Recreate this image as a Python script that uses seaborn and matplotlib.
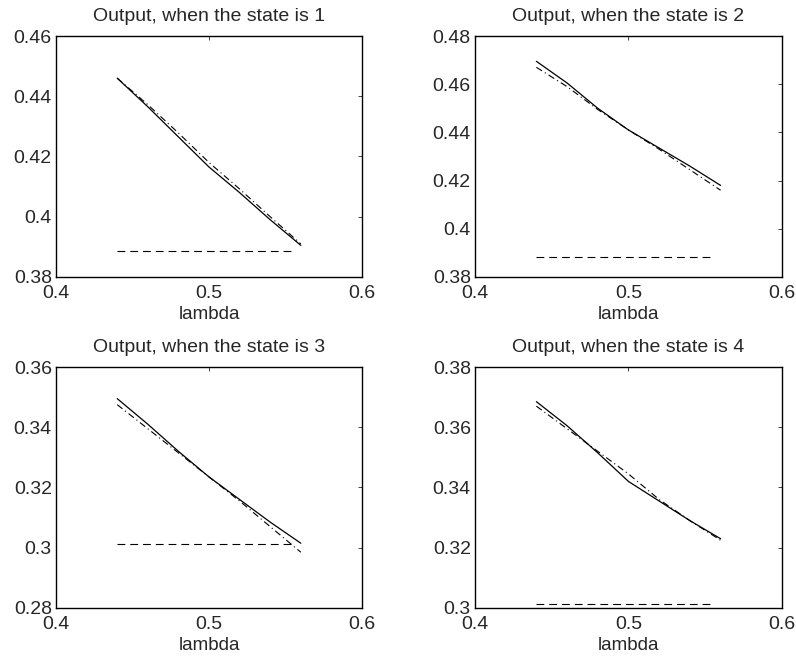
import numpy as np
import pandas as pd
import matplotlib
matplotlib.use("Agg")
import matplotlib.pyplot as plt
import seaborn as sns

# lambda grid
lam = [0.44, 0.46, 0.48, 0.50, 0.52, 0.54, 0.56]

# solid curves (one per state)
solid_1 = [0.4460, 0.4365, 0.4265, 0.4165, 0.4080, 0.3990, 0.3905]
solid_2 = [0.4695, 0.4605, 0.4500, 0.4410, 0.4335, 0.4260, 0.4180]
solid_3 = [0.3495, 0.3410, 0.3320, 0.3235, 0.3160, 0.3085, 0.3015]
solid_4 = [0.3685, 0.3605, 0.3515, 0.3420, 0.3355, 0.3290, 0.3230]

# dash-dot curves
dashdot_1 = [0.4460, 0.4372, 0.4278, 0.4180, 0.4092, 0.4000, 0.3910]
dashdot_2 = [0.4670, 0.4590, 0.4495, 0.4410, 0.4330, 0.4245, 0.4160]
dashdot_3 = [0.3475, 0.3395, 0.3315, 0.3235, 0.3155, 0.3070, 0.2985]
dashdot_4 = [0.3670, 0.3595, 0.3520, 0.3445, 0.3360, 0.3290, 0.3225]

# flat dashed reference level
flat_lam = [0.44, 0.555]
flat_level = [0.3885, 0.3885, 0.3012, 0.3012]

titles = ["Output, when the state is 1", "Output, when the state is 2",
          "Output, when the state is 3", "Output, when the state is 4"]
ylims = [(0.38, 0.46), (0.38, 0.48), (0.28, 0.36), (0.30, 0.38)]
yticks = [[0.38, 0.40, 0.42, 0.44, 0.46],
          [0.38, 0.40, 0.42, 0.44, 0.46, 0.48],
          [0.28, 0.30, 0.32, 0.34, 0.36],
          [0.30, 0.32, 0.34, 0.36, 0.38]]
xticks = [0.4, 0.5, 0.6]

sns.set_style("white")
plt.rcParams['font.family'] = ['Liberation Sans', 'DejaVu Sans']
plt.rcParams['xtick.direction'] = 'in'
plt.rcParams['ytick.direction'] = 'in'

solids = [solid_1, solid_2, solid_3, solid_4]
dashdots = [dashdot_1, dashdot_2, dashdot_3, dashdot_4]

fig = plt.figure(figsize=(7.96, 6.57), dpi=100)
positions = [[0.0704, 0.5784, 0.3844, 0.3668],
             [0.5967, 0.5784, 0.3857, 0.3668],
             [0.0704, 0.0746, 0.3844, 0.3668],
             [0.5967, 0.0746, 0.3857, 0.3668]]


def fmt(v):
    s = f"{v:.2f}".rstrip('0').rstrip('.')
    return s


for i in range(4):
    ax = fig.add_axes(positions[i])
    df = pd.DataFrame({'lambda': lam, 'solid': solids[i], 'dashdot': dashdots[i]})
    sns.lineplot(data=df, x='lambda', y='solid', ax=ax, color='black', lw=0.9)
    sns.lineplot(data=df, x='lambda', y='dashdot', ax=ax, color='black', lw=0.8,
                 linestyle=(0, (6, 3, 1, 3)))
    flat = pd.DataFrame({'lambda': flat_lam, 'y': [flat_level[i]] * 2})
    sns.lineplot(data=flat, x='lambda', y='y', ax=ax, color='black', lw=0.8,
                 linestyle=(0, (7, 4.5)))

    ax.set_xlim(0.4, 0.6)
    ax.set_ylim(*ylims[i])
    ax.set_xticks(xticks)
    ax.set_xticklabels([fmt(v) for v in xticks], fontsize=14)
    ax.set_yticks(yticks[i])
    ax.set_yticklabels([fmt(v) for v in yticks[i]], fontsize=14)
    ax.tick_params(top=True, right=True, length=3, width=0.6)
    ax.tick_params(axis='x', pad=6)
    ax.tick_params(axis='y', pad=3)
    ax.set_title(titles[i], fontsize=14, pad=11)
    ax.set_xlabel('lambda', fontsize=13.5, labelpad=3)
    ax.set_ylabel('')
    for sp in ax.spines.values():
        sp.set_visible(True)
        sp.set_color('black')
        sp.set_linewidth(1.0)

fig.savefig('out.png', dpi=100)
